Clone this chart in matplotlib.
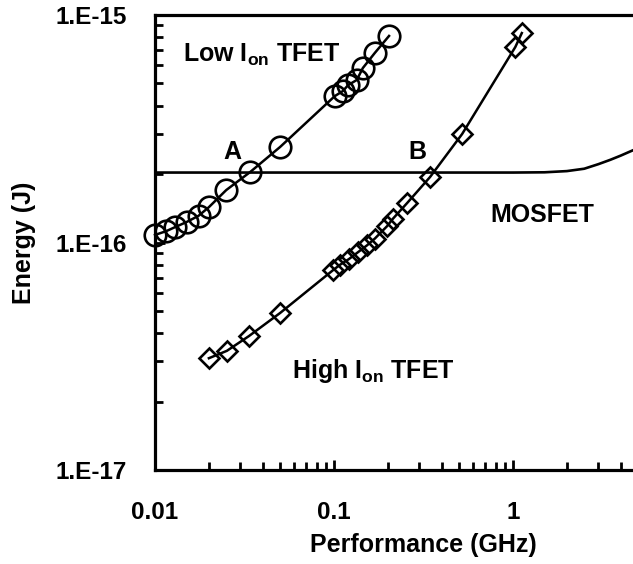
import numpy as np
import matplotlib
matplotlib.use('Agg')
import matplotlib.pyplot as plt
from matplotlib.ticker import LogLocator, NullFormatter

# Dados (GHz, J)
freq_low = [0.01, 0.0115, 0.013, 0.015, 0.0175, 0.02, 0.025, 0.034, 0.05,
            0.101, 0.112, 0.120, 0.134, 0.145, 0.169, 0.203]
energia_low = [1.08e-16, 1.12e-16, 1.17e-16, 1.23e-16, 1.31e-16, 1.43e-16, 1.70e-16, 2.04e-16, 2.63e-16,
               4.40e-16, 4.63e-16, 4.92e-16, 5.18e-16, 5.85e-16, 6.81e-16, 8.09e-16]

freq_high = [0.020, 0.0252, 0.0335, 0.050, 0.099, 0.108, 0.121, 0.136, 0.153, 0.169,
             0.198, 0.213, 0.256, 0.344, 0.52, 1.03, 1.12]
energia_high = [3.10e-17, 3.34e-17, 3.88e-17, 4.90e-17, 7.57e-17, 7.98e-17, 8.45e-17, 9.06e-17, 9.72e-17, 1.04e-16,
                1.18e-16, 1.27e-16, 1.49e-16, 1.94e-16, 3.0e-16, 7.23e-16, 8.33e-16]

freq_mos = [0.01, 0.1, 1, 1.5, 2, 2.5, 3, 3.5, 4, 4.5, 5]
energia_mos = [2.03e-16, 2.03e-16, 2.03e-16, 2.035e-16, 2.06e-16, 2.11e-16, 2.21e-16, 2.31e-16, 2.41e-16, 2.51e-16, 2.6e-16]

xticks = [0.01, 0.1, 1]
xtick_labels = ['0.01', '0.1', '1']
yticks = [1e-17, 1e-16, 1e-15]
ytick_labels = ['1.E-17', '1.E-16', '1.E-15']

plt.rcParams['font.family'] = 'Liberation Sans'
plt.rcParams['font.weight'] = 'bold'
plt.rcParams['mathtext.fontset'] = 'custom'
plt.rcParams['mathtext.rm'] = 'Liberation Sans:bold'
plt.rcParams['mathtext.bf'] = 'Liberation Sans:bold'

fig = plt.figure(figsize=(6.33, 5.64), dpi=100)
# eixo vai ate 10 GHz, a figura corta a parte da direita
ax = fig.add_axes([155 / 633, 94 / 564, 537 / 633, 455 / 564])
ax.set_xscale('log')
ax.set_yscale('log')
ax.set_xlim(0.01, 10)
ax.set_ylim(1e-17, 1e-15)

ax.plot(freq_mos, energia_mos, color='black', lw=1.9, solid_capstyle='butt')
ax.plot(freq_low, energia_low, color='black', lw=1.8, marker='o', ms=15.5,
        mfc='none', mec='black', mew=1.9, clip_on=False)
ax.plot(freq_high, energia_high, color='black', lw=1.8, marker='D', ms=10,
        mfc='none', mec='black', mew=1.9, clip_on=False)

for lado in ['left', 'bottom', 'top']:
    ax.spines[lado].set_linewidth(2.3)
ax.spines['right'].set_visible(False)

ax.set_xticks(xticks)
ax.set_xticklabels(xtick_labels)
ax.set_yticks(yticks)
ax.set_yticklabels(ytick_labels)
ax.xaxis.set_minor_locator(LogLocator(base=10, subs=np.arange(2, 10)))
ax.yaxis.set_minor_locator(LogLocator(base=10, subs=np.arange(2, 10)))
ax.xaxis.set_minor_formatter(NullFormatter())
ax.yaxis.set_minor_formatter(NullFormatter())
ax.tick_params(which='major', direction='in', length=7, width=2, labelsize=17.5)
ax.tick_params(which='minor', direction='in', length=6, width=2)
ax.tick_params(axis='x', which='major', pad=22)
ax.tick_params(axis='y', which='major', pad=20)
ax.tick_params(top=False, right=False, which='both')

ax.set_xlabel('Performance (GHz)', fontsize=18, fontweight='bold', labelpad=7)
ax.set_ylabel('Energy (J)', fontsize=18, fontweight='bold', labelpad=14)

ax.text(0.0143, 6.21e-16, r'Low I$_{\mathrm{on}}$ TFET', fontsize=18, fontweight='bold', va='baseline')
ax.text(0.0582, 2.53e-17, r'High I$_{\mathrm{on}}$ TFET', fontsize=18, fontweight='bold', va='baseline')
ax.text(0.745, 1.23e-16, 'MOSFET', fontsize=18, fontweight='bold', va='baseline')
ax.text(0.0269, 2.33e-16, 'A', fontsize=18, fontweight='bold', va='baseline', ha='center')
ax.text(0.294, 2.33e-16, 'B', fontsize=18, fontweight='bold', va='baseline', ha='center')

fig.savefig('out.png', dpi=100)
